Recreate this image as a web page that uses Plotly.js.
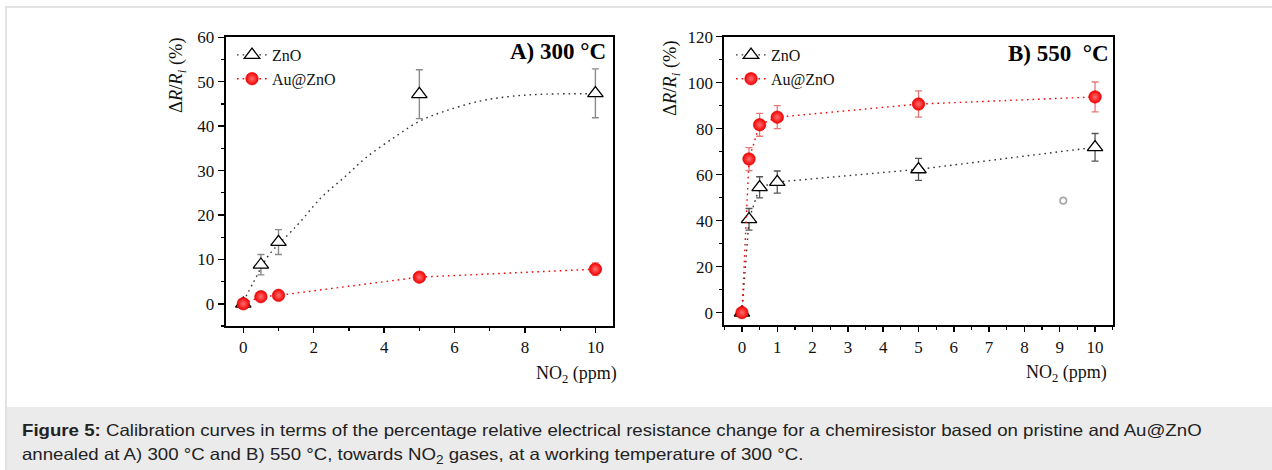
<!DOCTYPE html>
<html>
<head>
<meta charset="utf-8">
<script src="https://cdn.plot.ly/plotly-3.0.1.min.js"></script>
<style>
  html, body { margin: 0; padding: 0; width: 1272px; height: 470px; overflow: hidden; background: #ffffff; }
  #frame { position: absolute; left: 5px; top: 6px; width: 1280px; height: 480px;
           border-top: 2px solid #e2e2e2; border-left: 2px solid #e2e2e2; }
  #caption { position: absolute; left: 7px; top: 407px; width: 1265px; height: 63px; background: #ebebeb;
             font-family: "Liberation Sans", Arial, sans-serif; font-size: 16.5px; line-height: 24px;
             color: #222; padding: 11px 0 0 15px; box-sizing: border-box; }
  #captext { display: inline-block; transform: scaleX(1.13); transform-origin: left top; white-space: nowrap; }
  #plot { position: absolute; left: 0; top: 0; width: 1272px; height: 470px; }
</style>
</head>
<body>
<div id="frame"></div>
<div id="caption"><span id="captext"><b>Figure 5:</b> Calibration curves in terms of the percentage relative electrical resistance change for a chemiresistor based on pristine and Au@ZnO<br>annealed at A) 300 °C and B) 550 °C, towards NO<sub style="font-size:12px">2</sub> gases, at a working temperature of 300 °C.</span></div>
<div id="plot"></div>
<script>
// ---------- Panel A (annealed 300 °C) ----------
const concA = [0, 0.5, 1, 5, 10];
const znoA = [0, 8.8, 13.9, 47.2, 47.4];
const znoAErr = [0, 2.3, 2.8, 5.5, 5.5];
const auA = [0, 1.6, 1.9, 6.0, 7.8];
const auAErr = [0, 0.5, 0.5, 0.8, 1.4];
// dotted fit curve for ZnO
const fitAx = [0, 0.3, 0.7, 1.3, 1.6, 2.2, 2.9, 3.5, 4.35, 5, 5.7, 6.7, 7.6, 8.6, 10];
const fitAy = [0.5, 5, 10.7, 15.8, 18.3, 23.8, 28.7, 33, 37.8, 41.1, 43.3, 45.6, 46.7, 47.2, 47.3];

// ---------- Panel B (annealed 550 °C) ----------
const concB = [0, 0.2, 0.5, 1, 5, 10];
const znoB = [0, 40.6, 54.5, 56.8, 62.3, 71.9];
const znoBErr = [0, 4.7, 4.6, 4.8, 4.8, 6.0];
const auB = [0, 66.8, 81.7, 85.0, 90.7, 93.8];
const auBErr = [0, 5.0, 5.0, 5.0, 5.7, 6.5];
const strayX = [9.1];
const strayY = [48.7];

// ---------- Text ----------
const seriesNames = ['ZnO', 'Au@ZnO'];
const panelLabels = ['<b>A) 300 °C</b>', '<b>B) 550\u00a0\u00a0°C</b>'];
const yTitle = 'Δ<i>R</i>/<i>R</i><sub><i>i</i></sub> (%)';
const xTitle = 'NO<sub>2</sub> (ppm)';

const W = 1272, H = 470;
const px = v => v / W;
const py = v => 1 - v / H;

const serif = 'Liberation Serif, Times New Roman, serif';
const dotted = '1.6px,4px';
const red = '#ff0000';

const triMarker = {symbol: 'triangle-up', size: 13.5, color: '#ffffff', line: {color: '#000000', width: 1.3}};
const ballMarker = {symbol: 'circle', size: 12.5, color: '#f20000',
  gradient: {type: 'radial', color: '#ff7070'}, line: {color: '#e00000', width: 0.6}};

const traces = [
  // Panel A
  {x: fitAx, y: fitAy, xaxis: 'x', yaxis: 'y', mode: 'lines', line: {color: '#333', width: 1.4, dash: dotted, shape: 'spline'},
   showlegend: false, hoverinfo: 'skip'},
  {x: concA, y: auA, xaxis: 'x', yaxis: 'y', mode: 'lines', line: {color: red, width: 1.4, dash: dotted},
   showlegend: false, hoverinfo: 'skip'},
  {x: concA, y: znoA, xaxis: 'x', yaxis: 'y', mode: 'markers', marker: triMarker,
   error_y: {type: 'data', array: znoAErr, color: '#8a8a8a', thickness: 1.4, width: 3.5}, showlegend: false},
  {x: concA, y: auA, xaxis: 'x', yaxis: 'y', mode: 'markers', marker: ballMarker,
   error_y: {type: 'data', array: auAErr, color: '#f08080', thickness: 1.2, width: 3.5}, showlegend: false},
  // legend entries A
  {x: [null], y: [null], xaxis: 'x', yaxis: 'y', mode: 'lines+markers', name: seriesNames[0], legend: 'legend',
   line: {color: '#333', width: 1.4, dash: dotted}, marker: triMarker},
  {x: [null], y: [null], xaxis: 'x', yaxis: 'y', mode: 'lines+markers', name: seriesNames[1], legend: 'legend',
   line: {color: red, width: 1.4, dash: dotted}, marker: ballMarker},
  // Panel B
  {x: concB, y: znoB, xaxis: 'x2', yaxis: 'y2', mode: 'lines+markers', name: seriesNames[0], legend: 'legend2',
   line: {color: '#333', width: 1.4, dash: dotted}, marker: triMarker,
   error_y: {type: 'data', array: znoBErr, color: '#555', thickness: 1.3, width: 3.5}},
  {x: concB, y: auB, xaxis: 'x2', yaxis: 'y2', mode: 'lines+markers', name: seriesNames[1], legend: 'legend2',
   line: {color: red, width: 1.4, dash: dotted}, marker: ballMarker,
   error_y: {type: 'data', array: auBErr, color: '#e87878', thickness: 1.3, width: 3.5}},
  {x: strayX, y: strayY, xaxis: 'x2', yaxis: 'y2', mode: 'markers', showlegend: false,
   marker: {symbol: 'circle-open', size: 6.5, color: '#a8a8a8', line: {width: 1.6}}}
];

const axisBase = {
  showline: true, mirror: true, linecolor: '#000', linewidth: 2,
  ticks: 'outside', ticklen: 6, tickwidth: 1.5, tickcolor: '#000',
  showgrid: false, zeroline: false,
  tickfont: {family: serif, size: 17, color: '#111'},
  minor: {ticks: 'outside', ticklen: 3, tickwidth: 1.2, tickcolor: '#000', showgrid: false}
};

const layout = {
  width: W, height: H,
  margin: {l: 0, r: 0, t: 0, b: 0},
  paper_bgcolor: 'rgba(0,0,0,0)', plot_bgcolor: '#ffffff',
  font: {family: serif, color: '#111'},
  xaxis: Object.assign({}, axisBase, {domain: [px(225.7), px(613)], range: [-0.5, 10.5], anchor: 'y',
    dtick: 2, tick0: 0, ticklen: 5, minor: Object.assign({}, axisBase.minor, {dtick: 1})}),
  yaxis: Object.assign({}, axisBase, {domain: [py(326), py(37.3)], range: [-5, 60], anchor: 'x',
    dtick: 10, tick0: 0, minor: Object.assign({}, axisBase.minor, {dtick: 5})}),
  xaxis2: Object.assign({}, axisBase, {domain: [px(724.3), px(1112.7)], range: [-0.5, 10.5], anchor: 'y2',
    dtick: 1, tick0: 0, ticklen: 5, minor: Object.assign({}, axisBase.minor, {dtick: 0.5})}),
  yaxis2: Object.assign({}, axisBase, {domain: [py(325.3), py(36.7)], range: [-5.5, 120], anchor: 'x2',
    dtick: 20, tick0: 0, minor: Object.assign({}, axisBase.minor, {dtick: 10})}),
  legend: {x: px(232), y: py(38), xanchor: 'left', yanchor: 'top', bgcolor: 'rgba(0,0,0,0)',
    font: {family: serif, size: 16, color: '#111'}, tracegroupgap: 0, itemwidth: 30},
  legend2: {x: px(731), y: py(38), xanchor: 'left', yanchor: 'top', bgcolor: 'rgba(0,0,0,0)',
    font: {family: serif, size: 16, color: '#111'}, tracegroupgap: 0, itemwidth: 30},
  annotations: [
    {text: panelLabels[0], xref: 'paper', yref: 'paper', x: px(608), y: py(52), xanchor: 'right', yanchor: 'middle',
     showarrow: false, font: {family: serif, size: 23, color: '#000'}},
    {text: panelLabels[1], xref: 'paper', yref: 'paper', x: px(1111), y: py(53), xanchor: 'right', yanchor: 'middle',
     showarrow: false, font: {family: serif, size: 23, color: '#000'}},
    {text: yTitle, xref: 'paper', yref: 'paper', x: px(177), y: py(35), xanchor: 'center', yanchor: 'top',
     textangle: -90, showarrow: false, font: {family: serif, size: 18.5, color: '#111'}},
    {text: yTitle, xref: 'paper', yref: 'paper', x: px(671), y: py(38), xanchor: 'center', yanchor: 'top',
     textangle: -90, showarrow: false, font: {family: serif, size: 18.5, color: '#111'}},
    {text: xTitle, xref: 'paper', yref: 'paper', x: px(619), y: py(361), xanchor: 'right', yanchor: 'top',
     showarrow: false, font: {family: serif, size: 18, color: '#111'}},
    {text: xTitle, xref: 'paper', yref: 'paper', x: px(1109), y: py(360), xanchor: 'right', yanchor: 'top',
     showarrow: false, font: {family: serif, size: 18, color: '#111'}}
  ]
};

Plotly.newPlot('plot', traces, layout, {staticPlot: true, displayModeBar: false});
</script>
</body>
</html>
